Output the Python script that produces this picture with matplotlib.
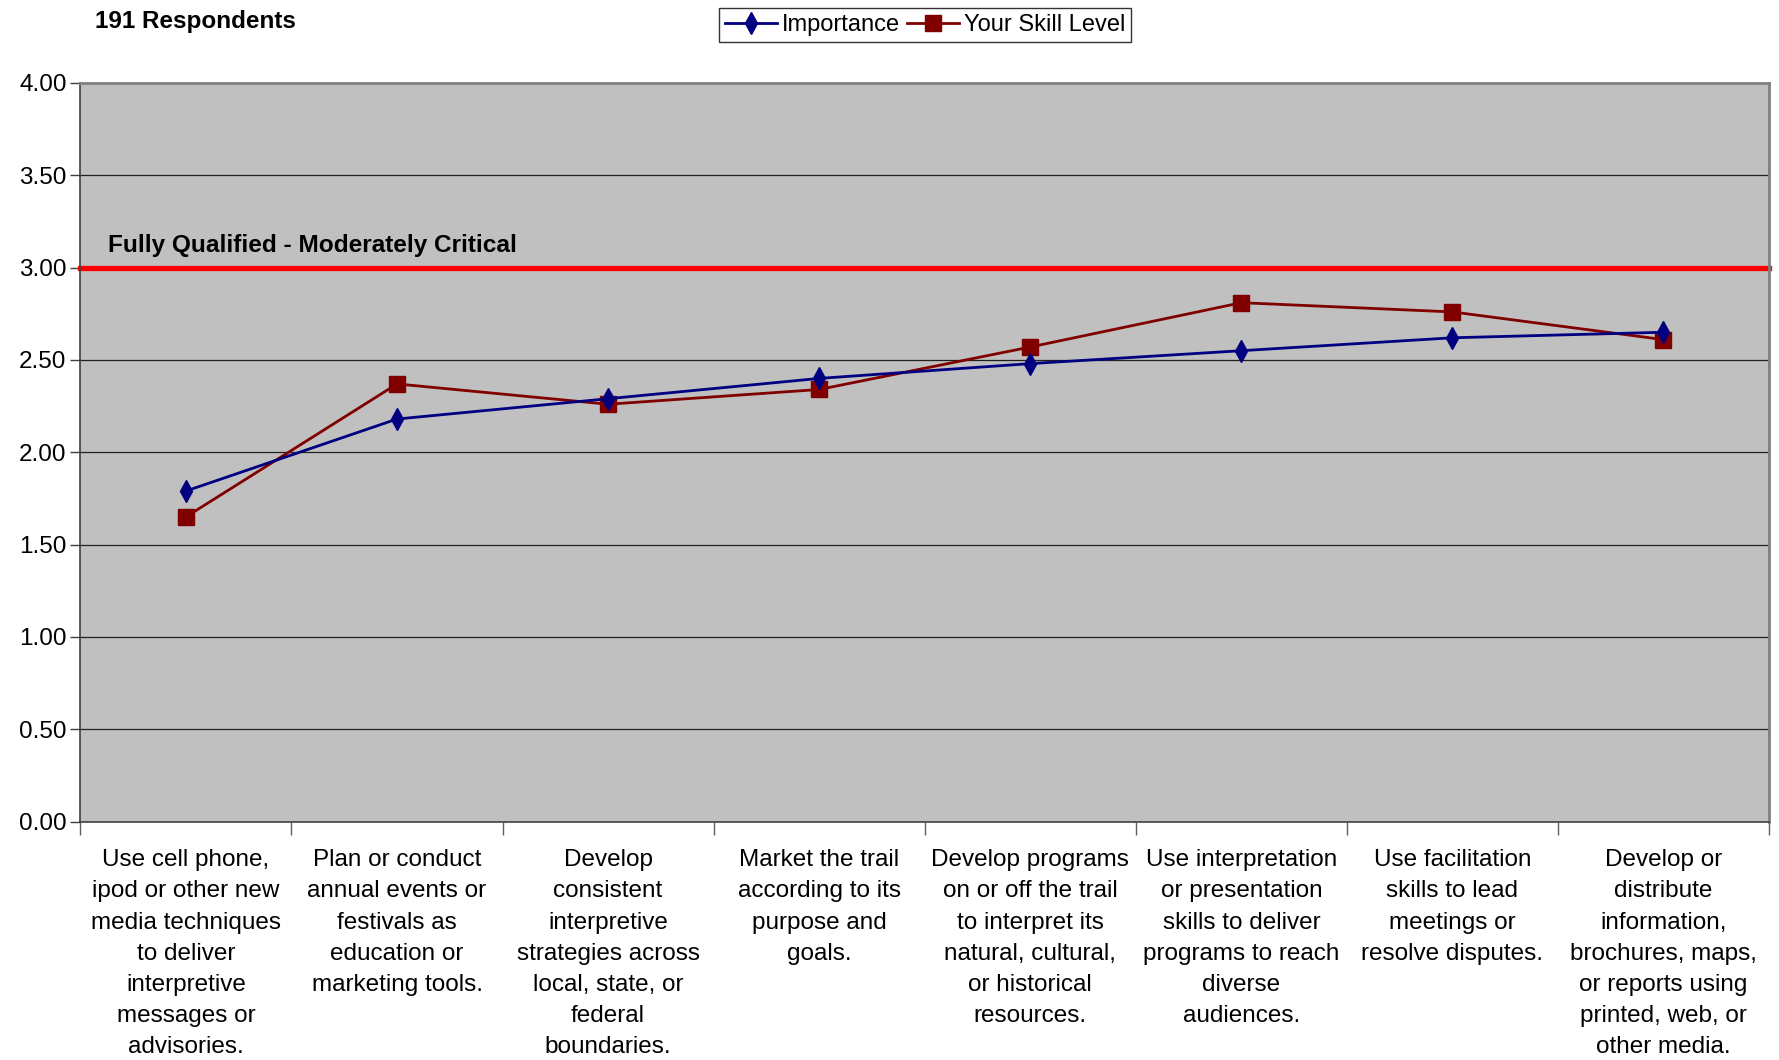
import matplotlib
matplotlib.use("Agg")
import matplotlib.pyplot as plt
import numpy as np

plt.rcParams["font.family"] = ["Liberation Sans", "DejaVu Sans"]

categories = [
    "Use cell phone,\nipod or other new\nmedia techniques\nto deliver\ninterpretive\nmessages or\nadvisories.",
    "Plan or conduct\nannual events or\nfestivals as\neducation or\nmarketing tools.",
    "Develop\nconsistent\ninterpretive\nstrategies across\nlocal, state, or\nfederal\nboundaries.",
    "Market the trail\naccording to its\npurpose and\ngoals.",
    "Develop programs\non or off the trail\nto interpret its\nnatural, cultural,\nor historical\nresources.",
    "Use interpretation\nor presentation\nskills to deliver\nprograms to reach\ndiverse\naudiences.",
    "Use facilitation\nskills to lead\nmeetings or\nresolve disputes.",
    "Develop or\ndistribute\ninformation,\nbrochures, maps,\nor reports using\nprinted, web, or\nother media.",
]
importance = [1.79, 2.18, 2.29, 2.40, 2.48, 2.55, 2.62, 2.65]
skill_level = [1.65, 2.37, 2.26, 2.34, 2.57, 2.81, 2.76, 2.61]
threshold = 3.0
threshold_label = "Fully Qualified - Moderately Critical"
yticks = [0.0, 0.5, 1.0, 1.5, 2.0, 2.5, 3.0, 3.5, 4.0]

fig = plt.figure(figsize=(17.79, 10.60), dpi=100)
ax = fig.add_axes([0.0452, 0.225, 0.9492, 0.6967])
ax.set_facecolor("#C0C0C0")

x = np.arange(len(categories))
ax.set_xlim(-0.5, len(categories) - 0.5)
ax.set_ylim(0, 4)

# gridlines
for y in yticks[1:-1]:
    ax.axhline(y, color="#202020", lw=0.9, zorder=1)

# threshold line + label
ax.axhline(threshold, color="#FF0000", lw=3.8, zorder=2, clip_on=False)
ax.text(-0.37, threshold + 0.06, threshold_label,
        fontsize=17.6, fontweight="bold", va="bottom", ha="left")

l1, = ax.plot(x, importance, color="#000080", lw=2, marker="d",
              markersize=11, markeredgecolor="#000080", zorder=4,
              label="Importance")
l2, = ax.plot(x, skill_level, color="#800000", lw=2, marker="s",
              markersize=11, markeredgecolor="#800000", zorder=3,
              label="Your Skill Level")

ax.set_yticks(yticks)
ax.set_yticklabels([f"{v:.2f}" for v in yticks], fontsize=17.5)
ax.tick_params(axis="y", direction="out", length=7, width=1, color="#404040", pad=3)

# ticks between categories, labels centred on categories
ax.set_xticks(np.arange(-0.5, len(categories)), minor=False)
ax.set_xticklabels([])
ax.tick_params(axis="x", which="major", direction="out", length=9, width=1, color="#606060")
ax.set_xticks(x, minor=True)
ax.set_xticklabels(categories, minor=True, fontsize=17.5, linespacing=1.54)
ax.tick_params(axis="x", which="minor", length=0, pad=20)

for side in ["left", "bottom"]:
    ax.spines[side].set_color("#404040")
    ax.spines[side].set_linewidth(1.2)
for side in ["top", "right"]:
    ax.spines[side].set_color("#808080")
    ax.spines[side].set_linewidth(2)

fig.text(0.0534, 0.980, "191 Respondents", fontsize=17.5, fontweight="bold",
         va="center", ha="left")

leg = fig.legend(handles=[l1, l2], loc="upper center", bbox_to_anchor=(0.52, 0.992),
                 ncol=2, fontsize=17, frameon=True, fancybox=False,
                 edgecolor="#000000", handlelength=2.2, handletextpad=0.2,
                 columnspacing=0.3, borderpad=0.25, borderaxespad=0)
leg.get_frame().set_linewidth(1)

fig.savefig("out.png", dpi=100)
